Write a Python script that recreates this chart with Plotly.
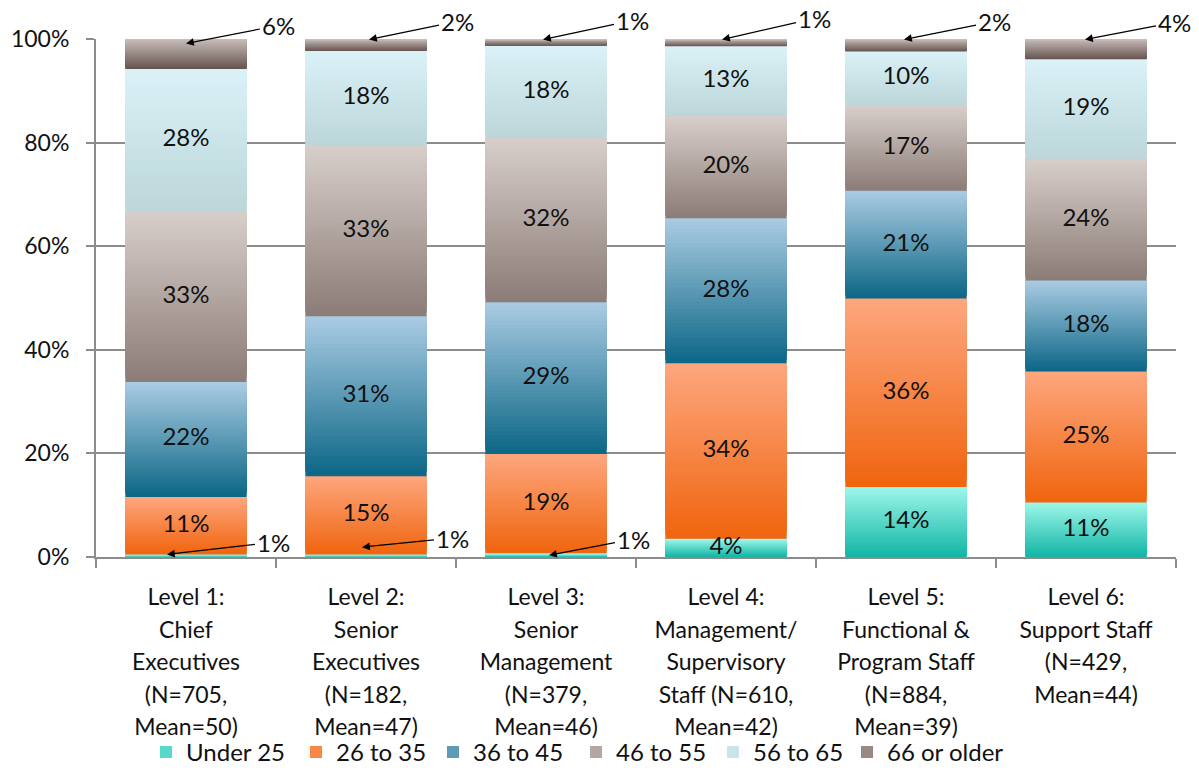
import math
import plotly.graph_objects as go

# ---------------- data ----------------
categories = ["Level 1", "Level 2", "Level 3", "Level 4", "Level 5", "Level 6"]
tick_labels = [
    ["Level 1:", "Chief", "Executives", "(N=705,", "Mean=50)"],
    ["Level 2:", "Senior", "Executives", "(N=182,", "Mean=47)"],
    ["Level 3:", "Senior", "Management", "(N=379,", "Mean=46)"],
    ["Level 4:", "Management/", "Supervisory", "Staff (N=610,", "Mean=42)"],
    ["Level 5:", "Functional &", "Program Staff", "(N=884,", "Mean=39)"],
    ["Level 6:", "Support Staff", "(N=429,", "Mean=44)"],
]
series_names = ["Under 25", "26 to 35", "36 to 45", "46 to 55", "56 to 65", "66 or older"]
under_25 = [0.5, 0.5, 0.7, 3.5, 13.5, 10.5]
age_26_35 = [11.1, 15.1, 19.2, 33.9, 36.4, 25.3]
age_36_45 = [22.2, 30.9, 29.3, 28.0, 20.8, 17.6]
age_46_55 = [32.9, 33.0, 31.7, 19.8, 16.5, 23.5]
age_56_65 = [27.5, 18.2, 17.8, 13.4, 10.4, 19.2]
age_66_plus = [5.8, 2.3, 1.3, 1.4, 2.4, 3.9]
y_tick_values = [0, 20, 40, 60, 80, 100]
y_tick_labels = ["0%", "20%", "40%", "60%", "80%", "100%"]

series_values = [under_25, age_26_35, age_36_45, age_46_55, age_56_65, age_66_plus]

# ---------------- style ----------------
FONT = "Lato, 'Open Sans', sans-serif"
# (top colour, bottom colour) of each vertical gradient
gradients = [
    ("#9cf6e9", "#13b6a6"),
    ("#fda67d", "#f0650f"),
    ("#a9cbe2", "#0d6787"),
    ("#d7cec9", "#8c7d78"),
    ("#daf2f7", "#bcd6da"),
    ("#c8bcb8", "#665450"),
]
legend_widths = [105, 92, 98, 92, 89, 125]
N_SLICES = 40
BAR_WIDTH = 0.674
# call-out (arrow) annotations: (series index, level index, ax, ay, xshift, head position in segment 0..1)
callouts = [
    (5, 0, 92, -18, 0, 0.85), (5, 1, 88, -18, 3, 1.0), (5, 2, 89, -19, -3, 1.0),
    (5, 3, 92, -21, -4, 1.0), (5, 4, 90, -18, -2, 1.0), (5, 5, 89, -17, -1, 1.0),
    (0, 0, 106, -12, -19, 1.0), (0, 1, 90, -9, -4, 3.8), (0, 2, 84, -16, 3, 0.5),
]
callout_set = {(s, l) for s, l, *_ in callouts}


def hex_to_rgb(h):
    h = h.lstrip("#")
    return tuple(int(h[i:i + 2], 16) for i in (0, 2, 4))


def mix(c_bottom, c_top, t):
    a, b = hex_to_rgb(c_bottom), hex_to_rgb(c_top)
    return "rgb(%d,%d,%d)" % tuple(round(a[k] + (b[k] - a[k]) * t) for k in range(3))


def pct_label(v):
    return "%d%%" % math.floor(v + 0.5)


fig = go.Figure()

bases = [0.0] * len(categories)
seg_bases = []
for s, (name, vals, (ctop, cbot)) in enumerate(zip(series_names, series_values, gradients)):
    seg_bases.append(list(bases))
    for j in range(N_SLICES):
        t = j / (N_SLICES - 1)
        fig.add_trace(go.Bar(
            x=categories,
            y=[v * (1 - j / N_SLICES) for v in vals],
            base=[b + v * j / N_SLICES for b, v in zip(bases, vals)],
            width=BAR_WIDTH,
            marker=dict(color=mix(cbot, ctop, t), line=dict(width=0)),
            name=name,
            legendgroup=name,
            legendwidth=legend_widths[s],
            showlegend=(j == N_SLICES // 2),
            hoverinfo="skip",
        ))
    bases = [b + v for b, v in zip(bases, vals)]

# inside labels
lx, ly, lt = [], [], []
for s, vals in enumerate(series_values):
    for i, v in enumerate(vals):
        if (s, i) in callout_set:
            continue
        lx.append(categories[i])
        ly.append(seg_bases[s][i] + v / 2)
        lt.append(pct_label(v))
fig.add_trace(go.Scatter(
    x=lx, y=ly, text=lt, mode="text", showlegend=False, hoverinfo="skip",
    textfont=dict(family=FONT, size=24, color="#111111"), cliponaxis=False,
))

annotations = []
for s, i, ax, ay, xs, pos in callouts:
    v = series_values[s][i]
    head_y = min(seg_bases[s][i] + v * pos, 99.9)
    annotations.append(dict(
        x=categories[i], y=head_y, xref="x", yref="y",
        text=pct_label(v), showarrow=True, ax=ax, ay=ay, xshift=xs,
        arrowhead=2, arrowsize=1.3, arrowwidth=1.2, arrowcolor="#000000",
        font=dict(family=FONT, size=24, color="#111111"),
    ))

tick_text = ["<br>".join('<span style="font-size:23px">%s</span>' % ln for ln in lines)
             for lines in tick_labels]

fig.update_layout(
    width=1199, height=770,
    margin=dict(l=96, r=23, t=39, b=213, autoexpand=False),
    paper_bgcolor="white", plot_bgcolor="white",
    barmode="overlay",
    font=dict(family=FONT, color="#111111"),
    annotations=annotations,
    showlegend=True,
    legend=dict(
        orientation="h", x=0.0463, xanchor="left", y=-0.377, yanchor="middle",
        font=dict(family=FONT, size=24, color="#111111"),
        traceorder="normal", itemwidth=30, bgcolor="rgba(0,0,0,0)",
        entrywidthmode="pixels",
    ),
    xaxis=dict(
        type="category", categoryorder="array", categoryarray=categories,
        tickvals=categories, ticktext=tick_text,
        tickfont=dict(family=FONT, size=25, color="#111111"),
        showline=True, linecolor="#8c8c8c", linewidth=2,
        ticks="outside", ticklen=9, tickwidth=2, tickcolor="#8c8c8c",
        tickson="boundaries", showgrid=False, tickangle=0,
        ticklabelstandoff=16,
        range=[-0.5, 5.5],
    ),
    yaxis=dict(
        range=[0, 100], tickvals=y_tick_values, ticktext=y_tick_labels,
        tickfont=dict(family=FONT, size=23, color="#111111"),
        showgrid=True, gridcolor="#8c8c8c", gridwidth=2,
        showline=True, linecolor="#8c8c8c", linewidth=2,
        ticks="outside", ticklen=8, tickwidth=2, tickcolor="#8c8c8c",
        ticklabelstandoff=12, zeroline=False,
    ),
)

fig.write_html("out.html")
